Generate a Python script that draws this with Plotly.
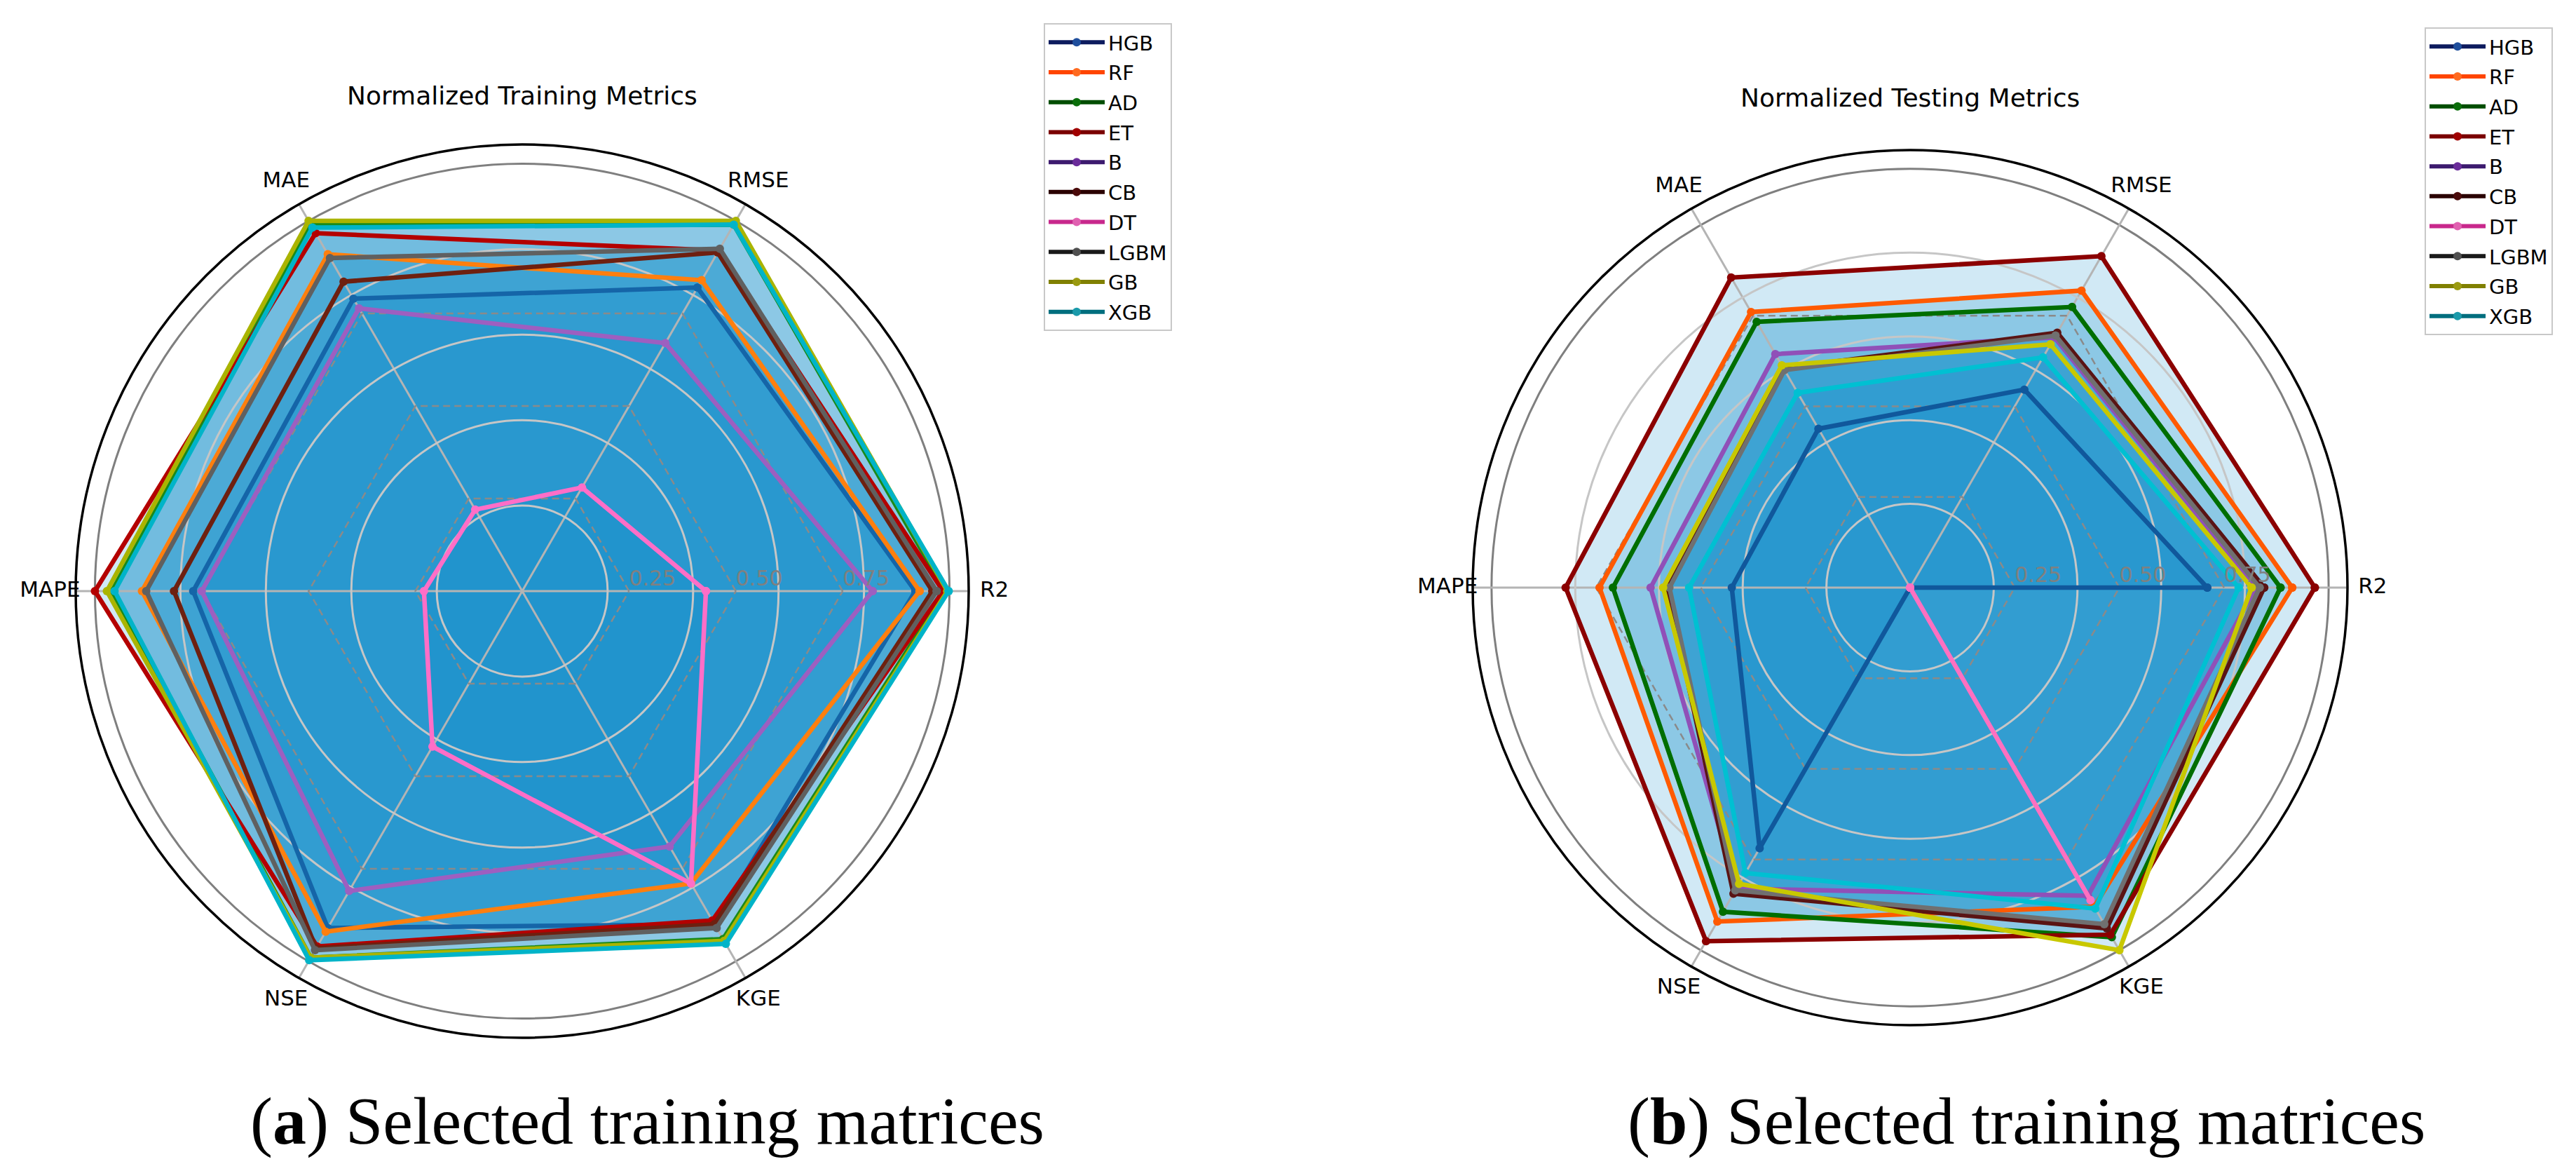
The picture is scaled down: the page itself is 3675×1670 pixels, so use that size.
import plotly.graph_objects as go

METRICS = ["R2", "RMSE", "MAE", "MAPE", "NSE", "KGE"]
MODELS = ["HGB", "RF", "AD", "ET", "B", "CB", "DT", "LGBM", "GB", "XGB"]

# ---- Normalized training metrics (one list per metric, in MODELS order) ----
TRAIN_R2   = [0.92, 0.93, 0.99, 0.985, 0.82, 0.96, 0.43, 0.97, 0.995, 0.998]
TRAIN_RMSE = [0.82, 0.84, 0.99, 0.92, 0.67, 0.915, 0.28, 0.925, 1.00, 0.99]
TRAIN_MAE  = [0.79, 0.91, 0.99, 0.967, 0.764, 0.836, 0.22, 0.90, 1.00, 0.982]
TRAIN_MAPE = [0.77, 0.89, 0.96, 1.00, 0.75, 0.815, 0.23, 0.88, 0.972, 0.954]
TRAIN_NSE  = [0.91, 0.92, 0.99, 0.96, 0.81, 0.965, 0.42, 0.97, 0.99, 0.997]
TRAIN_KGE  = [0.90, 0.79, 0.94, 0.89, 0.69, 0.90, 0.79, 0.91, 0.945, 0.953]

# ---- Normalized testing metrics ----
TEST_R2   = [0.71, 0.913, 0.885, 0.967, 0.826, 0.846, 0.0, 0.835, 0.816, 0.785]
TEST_RMSE = [0.546, 0.819, 0.774, 0.914, 0.69, 0.703, 0.0, 0.695, 0.671, 0.635]
TEST_MAE  = [0.438, 0.76, 0.733, 0.855, 0.644, 0.605, 0.0, 0.60, 0.613, 0.537]
TEST_MAPE = [0.426, 0.742, 0.71, 0.823, 0.62, 0.58, 0.0, 0.575, 0.59, 0.528]
TEST_NSE  = [0.719, 0.921, 0.894, 0.975, 0.83, 0.844, 0.0, 0.835, 0.817, 0.787]
TEST_KGE  = [0.0, 0.88, 0.964, 0.957, 0.85, 0.94, 0.862, 0.928, 1.00, 0.885]

DASH_LEVELS = [0.25, 0.5, 0.75]
GRID_LEVELS = [0.2, 0.4, 0.6, 0.8]
OUTER_LEVEL = [1.0]
RTICK_VALS = [0.25, 0.5, 0.75]
RTICK_TEXT = ["0.25", "0.50", "0.75"]

TRAIN_COLORS = ["#1565a8", "#ff7f0e", "#1a8a1a", "#b40000", "#9d5fc0",
                "#6e2010", "#ff6ec7", "#606060", "#aab400", "#00b4c8"]
TEST_COLORS = ["#10589c", "#ff5a00", "#006e00", "#8b0000", "#9050b8",
               "#5a1414", "#ff70c0", "#707070", "#c8c800", "#00c0d2"]
LEGEND_LINE = ["#0d1b5e", "#ff4500", "#004d00", "#7a0000", "#3c1a6e",
               "#2a0000", "#c8288c", "#1a1a1a", "#808000", "#006e7e"]
LEGEND_MARK = ["#1f4e9c", "#ff6a20", "#0a6e0a", "#a00000", "#6a2c9a",
               "#4a0a0a", "#e060b0", "#505050", "#9a9a10", "#1a9aaa"]
FILL = "rgba(0,135,198,0.18)"

W, H = 3675, 1670
RMAX = 1.045      # radial extent of the framed plot (black circle)
RMAX_TXT = 1.2    # radial extent of the label layer (same scale, larger domain)
LABEL_R = 1.105
FONT = "DejaVu Sans"

fig = go.Figure()

charts = [
    dict(cols=[TRAIN_R2, TRAIN_RMSE, TRAIN_MAE, TRAIN_MAPE, TRAIN_NSE, TRAIN_KGE],
         colors=TRAIN_COLORS, polars=("polar", "polar2", "polar3"), legend="legend",
         cx=737, cy=835, R=637, title="Normalized Training Metrics", ty=128,
         caption="(<b>a</b>) Selected training matrices", capx=915,
         legx=1481, legy=25),
    dict(cols=[TEST_R2, TEST_RMSE, TEST_MAE, TEST_MAPE, TEST_NSE, TEST_KGE],
         colors=TEST_COLORS, polars=("polar4", "polar5", "polar6"), legend="legend2",
         cx=2717, cy=830, R=624, title="Normalized Testing Metrics", ty=132,
         caption="(<b>b</b>) Selected training matrices", capx=2883,
         legx=3451, legy=31),
]

theta_closed = METRICS + [METRICS[0]]
annotations = []
layout_extra = {}


def domain(cx, cy, R):
    yb = H - cy
    return dict(x=[(cx - R) / W, (cx + R) / W], y=[(yb - R) / H, (yb + R) / H])


for ch in charts:
    pA, pB, pC = ch["polars"]
    # fills (bottom layer)
    for i, m in enumerate(MODELS):
        vals = [c[i] for c in ch["cols"]]
        fig.add_trace(go.Scatterpolar(
            r=vals + [vals[0]], theta=theta_closed, subplot=pA,
            mode="lines", fill="toself", fillcolor=FILL,
            line=dict(width=0, color="rgba(0,0,0,0)"),
            showlegend=False, hoverinfo="skip"))
    # dashed reference hexagons (above grid)
    for lvl in DASH_LEVELS:
        fig.add_trace(go.Scatterpolar(
            r=[lvl] * len(theta_closed), theta=theta_closed, subplot=pB,
            mode="lines", line=dict(color="#8a8a8a", width=2.5, dash="10px,6px"),
            showlegend=False, hoverinfo="skip"))
    # model lines
    for i, m in enumerate(MODELS):
        vals = [c[i] for c in ch["cols"]]
        fig.add_trace(go.Scatterpolar(
            r=vals + [vals[0]], theta=theta_closed, subplot=pC,
            mode="lines+markers", name=m,
            line=dict(color=ch["colors"][i], width=6.5),
            marker=dict(color=ch["colors"][i], size=12),
            showlegend=False))
    # radial tick labels (left-aligned at their value, on the R2 axis)
    fig.add_trace(go.Scatterpolar(
        r=RTICK_VALS, theta=[METRICS[0]] * len(RTICK_VALS), subplot=pC,
        mode="text", text=RTICK_TEXT, textposition="top right",
        textfont=dict(family=FONT, size=30, color="#808080"),
        showlegend=False, hoverinfo="skip"))
    # category labels
    fig.add_trace(go.Scatterpolar(
        r=[LABEL_R] * len(METRICS), theta=METRICS, subplot=pC,
        mode="text", text=METRICS, textposition="middle center",
        textfont=dict(family=FONT, size=31, color="black"),
        showlegend=False, hoverinfo="skip"))
    # legend entries
    for i, m in enumerate(MODELS):
        fig.add_trace(go.Scatterpolar(
            r=[None], theta=[None], subplot=pC, mode="lines+markers", name=m,
            line=dict(color=LEGEND_LINE[i], width=6),
            marker=dict(color=LEGEND_MARK[i], size=12),
            legend=ch["legend"], legendgroup=ch["legend"] + m, showlegend=True))

    dom = domain(ch["cx"], ch["cy"], ch["R"])
    dom_txt = domain(ch["cx"], ch["cy"], ch["R"] * RMAX_TXT / RMAX)
    ang = dict(type="category", categoryarray=METRICS, rotation=0,
               direction="counterclockwise")
    layout_extra[pA] = dict(
        domain=dom, bgcolor="white",
        radialaxis=dict(range=[0, RMAX], tickvals=OUTER_LEVEL, showticklabels=False,
                        ticks="", showline=False, gridcolor="#7f7f7f", gridwidth=3),
        angularaxis=dict(**ang, showgrid=False, showticklabels=False, ticks="",
                         showline=False))
    layout_extra[pB] = dict(
        domain=dom, bgcolor="rgba(0,0,0,0)",
        radialaxis=dict(range=[0, RMAX], tickvals=GRID_LEVELS, showticklabels=False,
                        ticks="", showline=False, gridcolor="#c6c6c6", gridwidth=2.5),
        angularaxis=dict(**ang, showgrid=True, gridcolor="#b4b4b4", gridwidth=2.5,
                         showticklabels=False, ticks="", showline=True,
                         linecolor="black", linewidth=3.5))
    layout_extra[pC] = dict(
        domain=dom_txt, bgcolor="rgba(0,0,0,0)",
        radialaxis=dict(range=[0, RMAX_TXT], showticklabels=False,
                        showgrid=False, showline=False, ticks=""),
        angularaxis=dict(**ang, showgrid=False, showline=False, ticks="",
                         showticklabels=False))
    layout_extra[ch["legend"]] = dict(
        x=ch["legx"] / W, y=1 - ch["legy"] / H, xanchor="left", yanchor="top",
        bgcolor="white", bordercolor="#c8c8c8", borderwidth=2,
        font=dict(family=FONT, size=29, color="black"), itemwidth=80,
        tracegroupgap=2)
    annotations.append(dict(text=ch["title"], x=ch["cx"] / W, y=1 - ch["ty"] / H,
                            xref="paper", yref="paper", showarrow=False,
                            xanchor="center", yanchor="middle",
                            font=dict(family=FONT, size=36, color="black")))
    annotations.append(dict(text=ch["caption"], x=ch["capx"] / W, y=1 - 1590 / H,
                            xref="paper", yref="paper", showarrow=False,
                            xanchor="center", yanchor="middle",
                            font=dict(family="Liberation Serif", size=96, color="black")))

fig.update_layout(width=W, height=H, margin=dict(l=0, r=0, t=0, b=0),
                  paper_bgcolor="white", plot_bgcolor="white", template="none",
                  annotations=annotations, **layout_extra)
fig.write_html("out.html")
